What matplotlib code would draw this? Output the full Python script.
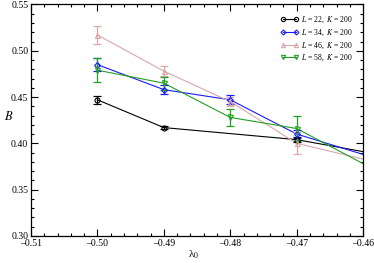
import matplotlib
matplotlib.use("Agg")
import matplotlib.pyplot as plt
from matplotlib.ticker import MultipleLocator, FormatStrFormatter

plt.rcParams['font.family'] = ['Liberation Serif', 'DejaVu Serif']
plt.rcParams['mathtext.fontset'] = 'stix'
plt.rcParams['axes.unicode_minus'] = False

lam = [-0.50, -0.49, -0.48, -0.47, -0.46]

b22 = [0.447, 0.417, None, 0.404, 0.391]
e22 = [0.004, 0.002, None, 0.003, 0.0]
b34 = [0.485, 0.458, 0.447, 0.410, 0.388]
e34 = [0.007, 0.005, 0.005, 0.004, 0.0]
b46 = [0.517, 0.478, 0.445, 0.400, 0.383]
e46 = [0.010, 0.005, 0.005, 0.012, 0.0]
b58 = [0.479, 0.465, 0.428, 0.416, 0.378]
e58 = [0.013, 0.007, 0.009, 0.014, 0.0]

series = [
    ("22", b22, e22, "black", "o"),
    ("34", b34, e34, "#1a1aff", "D"),
    ("46", b46, e46, "#d9a8a8", "^"),
    ("58", b58, e58, "#22a022", "v"),
]

fig = plt.figure(figsize=(3.74, 2.63), dpi=100)
ax = fig.add_axes([0.083, 0.103, 0.888, 0.880])

for L, b, e, c, m in series:
    xs = [x for x, v in zip(lam, b) if v is not None]
    ys = [v for v in b if v is not None]
    es = [v for v in e if v is not None]
    ax.plot(xs, ys, color=c, lw=0.8, zorder=2)
    ms = 3.0 if m == "D" else 3.6
    exs = [x for x, er in zip(xs, es) if er > 0]
    eys = [y for y, er in zip(ys, es) if er > 0]
    ees = [er for er in es if er > 0]
    ax.errorbar(exs, eys, yerr=ees, fmt='none', ecolor=c, elinewidth=0.9,
                capsize=3, capthick=0.9, zorder=3)
    ax.plot(exs, eys, ls='none', marker=m, mfc='none', mec=c, ms=ms, mew=0.8, zorder=4)
    ax.plot([], [], color=c, lw=0.8, marker=m, mfc='none', mec=c, ms=ms, mew=0.8,
            label=r"$L$ = %s,  $K$ = 200" % L)

ax.set_xlim(-0.51, -0.46)
ax.set_ylim(0.30, 0.55)
ax.xaxis.set_major_locator(MultipleLocator(0.01))
ax.xaxis.set_minor_locator(MultipleLocator(0.002))
ax.yaxis.set_major_locator(MultipleLocator(0.05))
ax.yaxis.set_minor_locator(MultipleLocator(0.01))
fmt = lambda v, p: ("\u2013%.2f" % abs(v)) if v < 0 else "%.2f" % v
ax.xaxis.set_major_formatter(plt.FuncFormatter(fmt))
ax.yaxis.set_major_formatter(FormatStrFormatter("%.2f"))
ax.tick_params(which='both', direction='in', top=True, right=True, labelsize=7, width=0.8, pad=2)
ax.tick_params(which='major', length=5)
ax.tick_params(which='minor', length=2.5)
for s in ax.spines.values():
    s.set_linewidth(0.9)

ax.set_xlabel("λ$_0$", fontsize=8)
ax.xaxis.set_label_coords(0.49, -0.055)
ax.set_ylabel("$B$", fontsize=9, rotation=0)
ax.yaxis.set_label_coords(-0.068, 0.49)

leg = ax.legend(loc='upper right', fontsize=5.5, frameon=False, handlelength=2.2,
                numpoints=2, markerscale=0.85, bbox_to_anchor=(0.99, 0.985),
                labelspacing=0.3, handletextpad=0.4)

fig.savefig("out.png", dpi=100)
